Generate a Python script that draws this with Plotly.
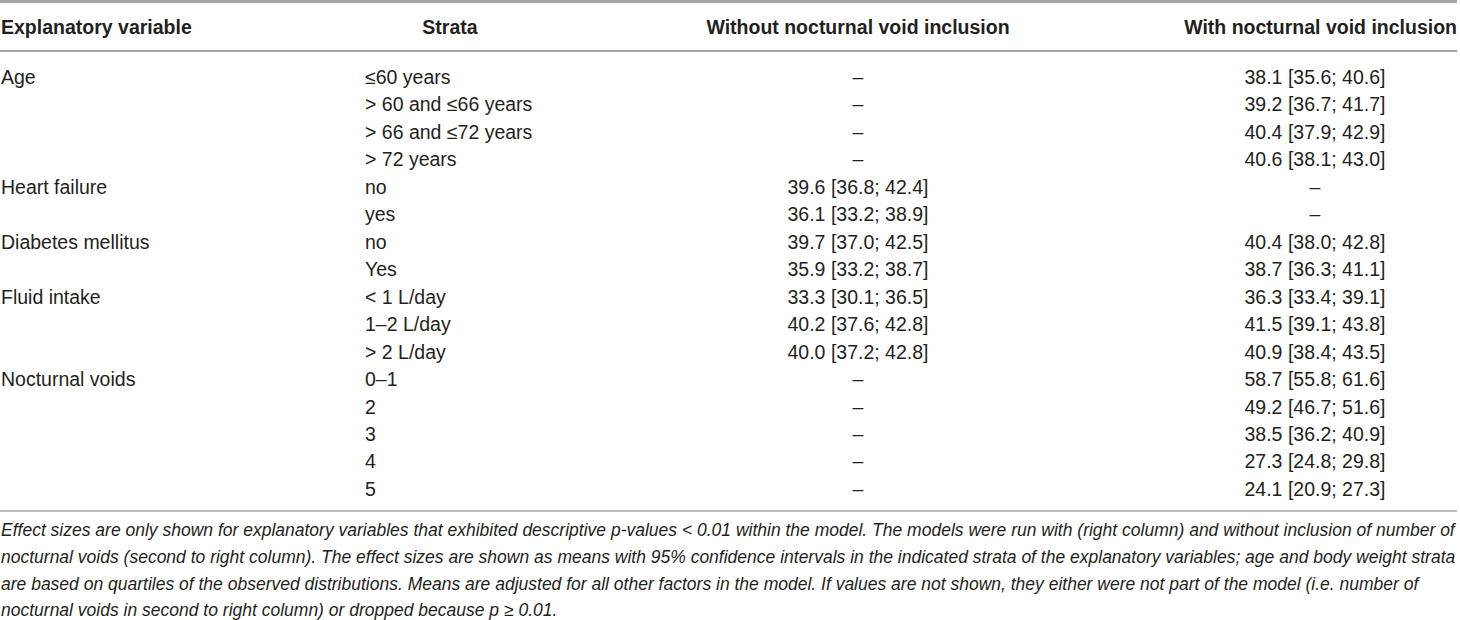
import plotly.graph_objects as go

# table content
headers = ["Explanatory variable", "Strata", "Without nocturnal void inclusion", "With nocturnal void inclusion"]

variables = ["Age", "", "", "", "Heart failure", "", "Diabetes mellitus", "", "Fluid intake", "", "",
             "Nocturnal voids", "", "", "", ""]

strata = ["≤60 years", "> 60 and ≤66 years", "> 66 and ≤72 years", "> 72 years",
          "no", "yes", "no", "Yes",
          "< 1 L/day", "1–2 L/day", "> 2 L/day",
          "0–1", "2", "3", "4", "5"]

without_nv = ["–", "–", "–", "–",
              "39.6 [36.8; 42.4]", "36.1 [33.2; 38.9]",
              "39.7 [37.0; 42.5]", "35.9 [33.2; 38.7]",
              "33.3 [30.1; 36.5]", "40.2 [37.6; 42.8]", "40.0 [37.2; 42.8]",
              "–", "–", "–", "–", "–"]

with_nv = ["38.1 [35.6; 40.6]", "39.2 [36.7; 41.7]", "40.4 [37.9; 42.9]", "40.6 [38.1; 43.0]",
           "–", "–",
           "40.4 [38.0; 42.8]", "38.7 [36.3; 41.1]",
           "36.3 [33.4; 39.1]", "41.5 [39.1; 43.8]", "40.9 [38.4; 43.5]",
           "58.7 [55.8; 61.6]", "49.2 [46.7; 51.6]", "38.5 [36.2; 40.9]", "27.3 [24.8; 29.8]", "24.1 [20.9; 27.3]"]

footnote = [
    "Effect sizes are only shown for explanatory variables that exhibited descriptive p-values < 0.01 within the model. The models were run with (right column) and without inclusion of number of",
    "nocturnal voids (second to right column). The effect sizes are shown as means with 95% confidence intervals in the indicated strata of the explanatory variables; age and body weight strata",
    "are based on quartiles of the observed distributions. Means are adjusted for all other factors in the model. If values are not shown, they either were not part of the model (i.e. number of",
    "nocturnal voids in second to right column) or dropped because p ≥ 0.01.",
]

W, H = 1460, 620
FONT = "Liberation Sans, Arial, sans-serif"
FS = 19.5
NOTE_FS = 17.5
INK = "#231f20"
RULE = "#a6a6a6"

# row pitch / origin in pixels, used only to set the y-axis range
ROW0, PITCH = 79, 27.47


def esc(s):
    return s.replace("&", "&amp;").replace("<", "&lt;").replace(">", "&gt;")


rows = list(range(len(strata)))
fig = go.Figure()


def add_col(x, texts, ys, pos, bold=False, italic=False, size=FS):
    fig.add_trace(go.Scatter(
        x=[x] * len(texts), y=ys, mode="text",
        text=[esc(t) for t in texts], textposition=pos,
        textfont=dict(family=FONT, size=size, color=INK,
                      weight="bold" if bold else "normal",
                      style="italic" if italic else "normal"),
        hoverinfo="skip", showlegend=False, cliponaxis=False))


# header
hy = (29 - ROW0) / PITCH
add_col(1, [headers[0]], [hy], "middle right", bold=True)
add_col(450, [headers[1]], [hy], "middle center", bold=True)
add_col(858, [headers[2]], [hy], "middle center", bold=True)
add_col(1457, [headers[3]], [hy], "middle left", bold=True)

# body
vy = [r for r, v in zip(rows, variables) if v]
add_col(1, [v for v in variables if v], vy, "middle right")
add_col(365, strata, rows, "middle right")
add_col(858, without_nv, rows, "middle center")
add_col(1315, with_nv, rows, "middle center")

# footnote
fy = [(y - ROW0) / PITCH for y in (532, 559, 586, 612)]
add_col(1, footnote, fy, "middle right", italic=True, size=NOTE_FS)

# rules
for y, w in ((1.5, 3), (51, 2), (511, 1.5)):
    fig.add_shape(type="line", xref="paper", yref="paper", x0=0, x1=1457 / W,
                  y0=1 - y / H, y1=1 - y / H, line=dict(color=RULE, width=w))

ymin = -ROW0 / PITCH
ymax = ymin + H / PITCH
fig.update_layout(
    width=W, height=H, margin=dict(l=0, r=0, t=0, b=0),
    paper_bgcolor="white", plot_bgcolor="white",
    xaxis=dict(range=[0, W], visible=False, fixedrange=True),
    yaxis=dict(range=[ymax, ymin], visible=False, fixedrange=True),
)

fig.write_html("out.html", config={"displayModeBar": False},
               post_script="document.body.style.margin='0px';")
